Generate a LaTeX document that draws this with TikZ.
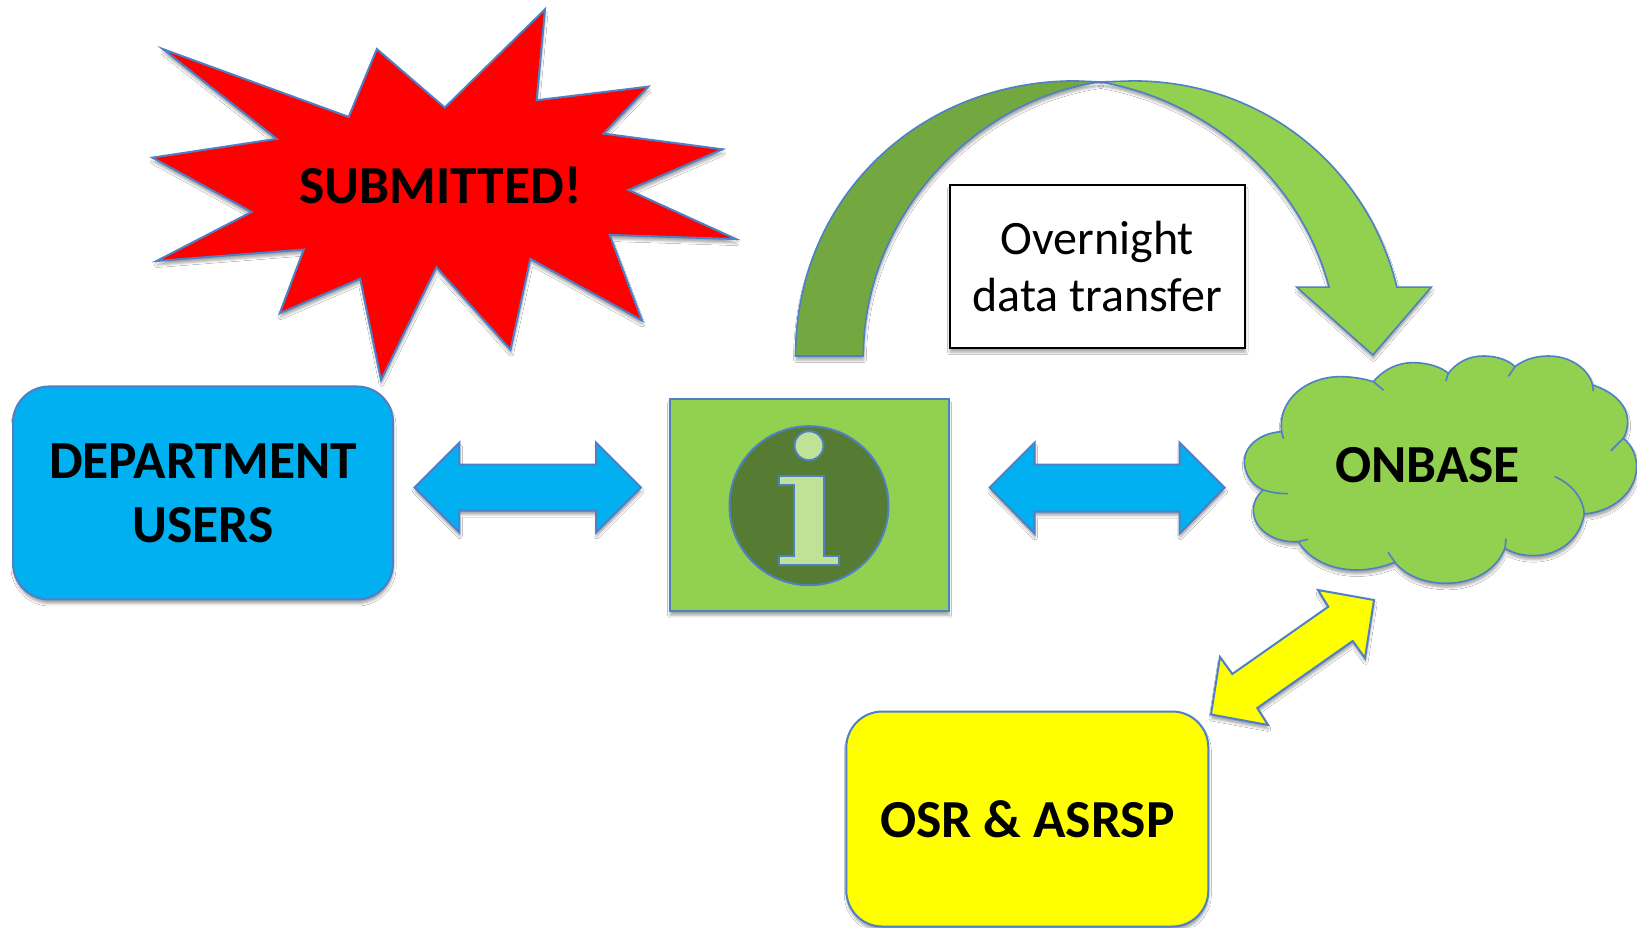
\documentclass[tikz,border=0pt]{standalone}
\usepackage{fontspec}
\setmainfont{Carlito}
\usetikzlibrary{shadows,shadows.blur}
\definecolor{edge}{RGB}{79,127,196}
\definecolor{lgreen}{RGB}{146,208,80}
\definecolor{mgreen}{RGB}{115,167,64}
\definecolor{dgreen}{RGB}{86,123,50}
\definecolor{pgreen}{RGB}{191,226,150}
\definecolor{sky}{RGB}{0,176,240}
\definecolor{pureyellow}{RGB}{255,255,0}
\definecolor{purered}{RGB}{255,0,0}
\tikzset{
  softshadow/.style={blur shadow={shadow xshift=0.5pt,shadow yshift=-4pt,shadow blur radius=2.5pt,shadow opacity=35}},
  shapeline/.style={draw=edge,line width=2pt,line join=miter},
  roundbox/.style={shapeline,rounded corners=36pt,softshadow,align=center,font=\fontsize{53.5}{64}\selectfont\bfseries,text=black,inner sep=0pt},
  plainlabel/.style={font=\fontsize{53.5}{64}\selectfont\bfseries,text=black,align=center,inner sep=0pt},
}
\begin{document}
\begin{tikzpicture}[x=1.044pt,y=-1.044pt]
\useasboundingbox (0,0) rectangle (1568,888);
\fill[white] (0,0) rectangle (1568,888);
% burst
\draw[shapeline,fill=purered,softshadow] (522,9)--(514,96)--(621,83)--(578,128)--(692,143)--(602,182)--(705,229)--(584,225)--(615,307)--(508,248)--(489,335)--(418,256)--(365,364)--(345,267)--(268,300)--(291,239)--(150,250)--(241,203)--(146,151)--(265,133)--(156,47)--(334,112)--(361,47)--(426,103)--cycle;
\node[plainlabel] (submitted) at (422,177.5) {SUBMITTED!};
% users box
\node[roundbox,fill=sky,minimum width=380pt,minimum height=213pt] (users) at (194.5,472.2) {DEPARTMENT\\USERS};
% blue arrows
\draw[shapeline,fill=sky,softshadow] (397,467)--(440,424)--(440,445)--(571,445)--(571,424)--(614,467)--(571,510)--(571,489)--(440,489)--(440,510)--cycle;
\draw[shapeline,fill=sky,softshadow] (948,467)--(991,424)--(991,445)--(1130,445)--(1130,424)--(1173,467)--(1130,511)--(1130,490)--(991,490)--(991,511)--cycle;
% info box
\node[shapeline,fill=lgreen,softshadow,minimum width=279pt,minimum height=212pt] (info) at (775,484) {};
\begin{scope}[x=1pt,y=-1pt]
\node[shapeline,circle,fill=dgreen,minimum size=159pt,inner sep=0pt] (icon) at (809,505.7) {};
\node[shapeline,circle,fill=pgreen,minimum size=29pt,inner sep=0pt] (dot) at (809,445.7) {};
\end{scope}
\begin{scope}[shift={(640/1.044,380/1.044)},x=0.3333pt,y=-0.3333pt]
\draw[shapeline,fill=pgreen] (417,288)--(553,288)--(553,527)--(597,527)--(597,556)--(417,556)--(417,527)--(463,527)--(463,316)--(417,316)--cycle;
\end{scope}
% curved arrow
\draw[shapeline,line width=1.6pt,fill=mgreen,softshadow] (762,341) .. controls (762,190) and (880,77.5) .. (1030,77.5) -- (1054,78.5) .. controls (930,96) and (827,210) .. (827,341) -- cycle;
\draw[shapeline,line width=1.6pt,fill=lgreen,softshadow] (1054,78.5) -- (1085,77.5) .. controls (1210,77.5) and (1310,160) .. (1338,275) -- (1371,275) -- (1315,340) -- (1242,275) -- (1273,275) .. controls (1245,170) and (1155,96) .. (1054,78.5) -- cycle;
% label box
\node[draw=black,line width=2pt,fill=white,softshadow,minimum width=295.5pt,minimum height=163pt,align=center,inner sep=0pt,font=\fontsize{48}{56.5}\selectfont] (note) at (1051,255.5) {Overnight\\data transfer};
% cloud
\begin{scope}[shift={(1200/1.044,330/1.044)},x=0.3333pt,y=-0.3333pt]
\draw[shapeline,line width=1.6pt,fill=lgreen,softshadow] (245,305) .. controls (232,210) and (320,140) .. (420,140) .. controls (460,140) and (495,147) .. (520,155)
.. controls (550,120) and (590,98) .. (640,98) .. controls (685,98) and (725,112) .. (745,130)
.. controls (770,98) and (805,78) .. (850,78) .. controls (890,78) and (925,90) .. (945,110)
.. controls (970,90) and (1005,78) .. (1045,78) .. controls (1110,78) and (1165,115) .. (1178,165)
.. controls (1240,185) and (1283,225) .. (1283,275) .. controls (1283,295) and (1278,312) .. (1270,325)
.. controls (1295,345) and (1310,375) .. (1310,410) .. controls (1310,485) and (1240,545) .. (1153,552)
.. controls (1140,630) and (1075,677) .. (1000,677) .. controls (965,677) and (935,668) .. (915,655)
.. controls (890,720) and (820,760) .. (740,760) .. controls (670,760) and (615,735) .. (585,697)
.. controls (545,712) and (510,720) .. (470,720) .. controls (390,720) and (325,685) .. (295,635)
.. controls (225,640) and (160,600) .. (160,540) .. controls (160,515) and (172,495) .. (190,480)
.. controls (155,465) and (133,430) .. (133,395) .. controls (133,345) and (185,308) .. (245,305) -- cycle;
\draw[shapeline,line width=1.6pt,line cap=round]
 (245,305)--(250,325) (520,155)--(550,180) (745,130)--(738,152) (945,110)--(926,138) (1178,165)--(1180,182)
 (1270,325)--(1233,362) (1153,552) .. controls (1150,505) and (1115,462) .. (1065,440)
 (915,655)--(918,627) (585,697)--(565,668) (295,635)--(323,628) (190,480) .. controls (215,488) and (240,491) .. (263,491);
\node[plainlabel] (onbase) at (683,405) {ONBASE};
\end{scope}
% yellow box and arrow
\node[roundbox,fill=pureyellow,minimum width=362pt,minimum height=215pt] (osr) at (984,784.5) {OSR \& ASRSP};
\begin{scope}[x=1pt,y=-1pt]
\draw[shapeline,fill=pureyellow,softshadow] (1374,600)--(1318,590)--(1328.3,606.7)--(1232.3,674)--(1220,657)--(1211,714.5)--(1268,725)--(1257.3,708)--(1352.7,641)--(1365,658)--cycle;
\end{scope}
\end{tikzpicture}
\end{document}
